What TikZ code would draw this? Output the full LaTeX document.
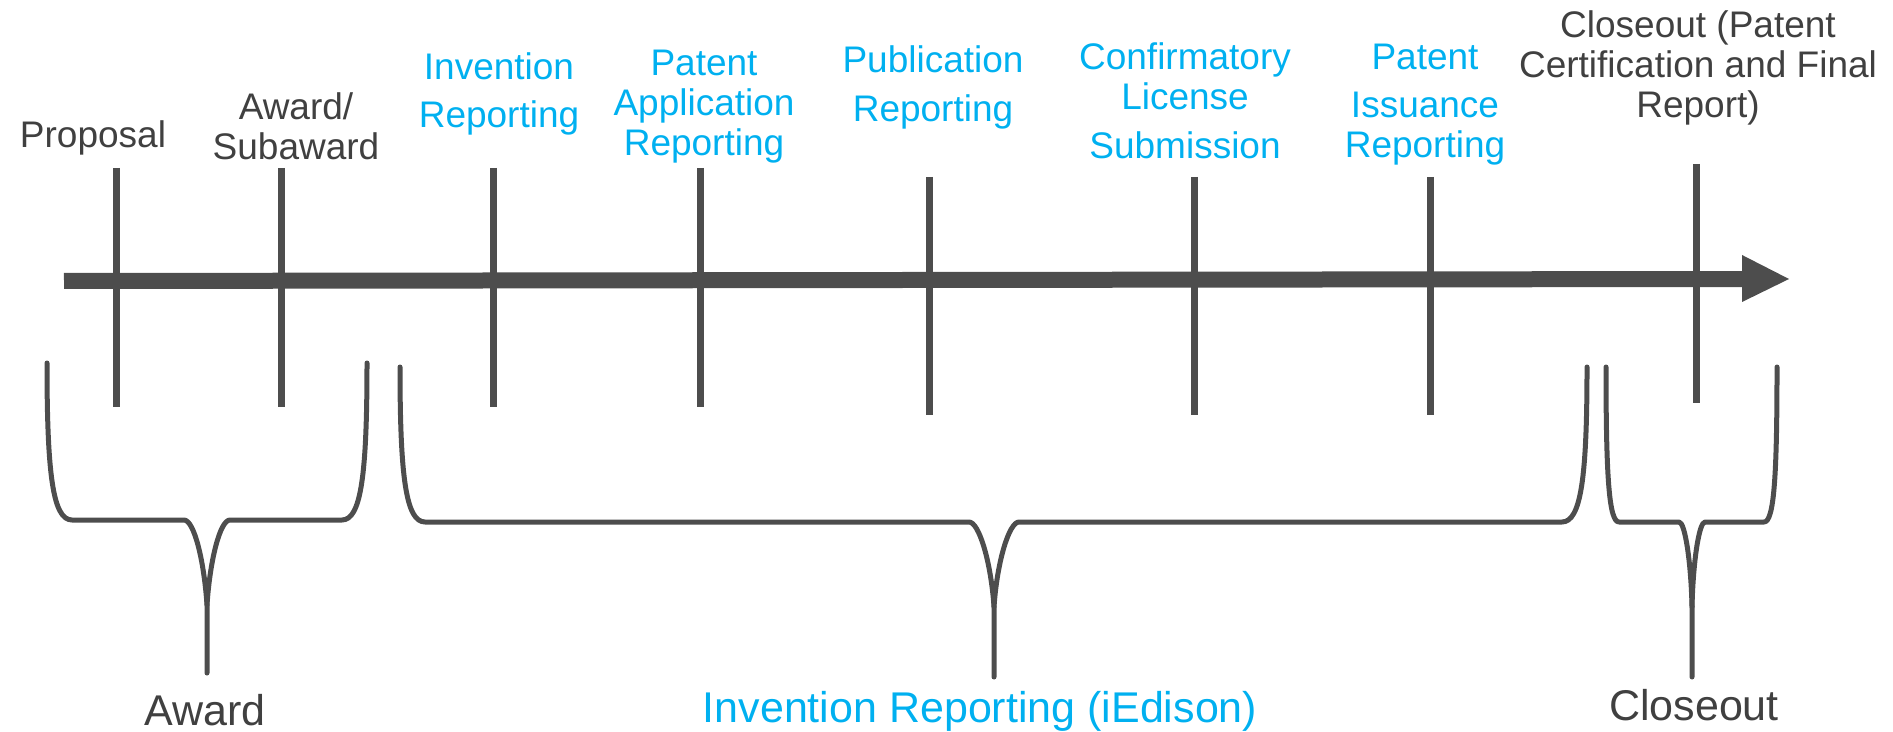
\documentclass[tikz,border=0pt]{standalone}
\usepackage{fontspec}
\setmainfont{Liberation Sans}
\definecolor{linegray}{HTML}{4D4D4D}
\definecolor{textgray}{HTML}{404040}
\definecolor{cyanblue}{HTML}{00B0F0}
\begin{document}
\begin{tikzpicture}[x=0.5pt,y=-0.5pt,
  ticklin/.style={line width=3.5pt, draw=linegray},
  barlin/.style={line width=8pt, draw=linegray},
  bracelin/.style={line width=2.5pt, draw=linegray, line join=round, line cap=round},
  toplab/.style={font=\fontsize{18.5}{20}\selectfont, align=center, inner sep=0pt, anchor=base},
  botlab/.style={font=\fontsize{21.5}{24}\selectfont, inner sep=0pt, anchor=base},
  graytext/.style={text=textgray},
  bluetext/.style={text=cyanblue}]
\useasboundingbox (0,0) rectangle (1893,732);

% main timeline arrow
\coordinate (barstart) at (64,281);
\coordinate (barend) at (1743,279);
\coordinate (tipA) at (1742,255);
\coordinate (tipB) at (1789,279);
\coordinate (tipC) at (1742,302);
\draw[barlin] (barstart) -- (barend);
\fill[linegray] (tipA) -- (tipB) -- (tipC) -- cycle;

% ticks
\coordinate (t1a) at (116,168); \coordinate (t1b) at (116,407);
\coordinate (t2a) at (281,168); \coordinate (t2b) at (281,407);
\coordinate (t3a) at (493,168); \coordinate (t3b) at (493,407);
\coordinate (t4a) at (700,168); \coordinate (t4b) at (700,407);
\coordinate (t5a) at (929,177); \coordinate (t5b) at (929,415);
\coordinate (t6a) at (1194,177); \coordinate (t6b) at (1194,415);
\coordinate (t7a) at (1430,177); \coordinate (t7b) at (1430,415);
\coordinate (t8a) at (1696,164); \coordinate (t8b) at (1696,403);
\foreach \i in {1,...,8} {\draw[ticklin] (t\i a) -- (t\i b);}

% top labels
\node[toplab,graytext] (lproposal) at (93,148) {Proposal};
\node[toplab,graytext] (laward) at (296,160) {Award/\\Subaward};
\node[toplab,bluetext] (linvention) at (499,128) {Invention\\[4pt]Reporting};
\node[toplab,bluetext] (lpatapp) at (704,156) {Patent\\Application\\Reporting};
\node[toplab,bluetext] (lpub) at (933,122) {Publication\\[4.5pt]Reporting};
\node[toplab,bluetext] (lconf) at (1185,159) {Confirmatory\\License\\[4.5pt]Submission};
\node[toplab,bluetext] (lissue) at (1425,158) {Patent\\[4pt]Issuance\\Reporting};
\node[toplab,graytext] (lclose) at (1698,118) {Closeout (Patent\\Certification and Final\\Report)};

% braces
\coordinate (awardtip) at (207,673);
\coordinate (invtip) at (994,677);
\coordinate (closetip) at (1692,677);
\draw[bracelin] (47,363) .. controls (47,475) and (53,520) .. (72,520) -- (184,520)
  .. controls (194,520) and (204,560) .. (207,605) -- (awardtip);
\draw[bracelin] (367,363) .. controls (367,475) and (361,520) .. (342,520) -- (230,520)
  .. controls (220,520) and (210,560) .. (207,605);
\draw[bracelin] (400,367) .. controls (400,477) and (406,522) .. (425,522) -- (969,522)
  .. controls (979,522) and (991,562) .. (994,607) -- (invtip);
\draw[bracelin] (1587,367) .. controls (1587,477) and (1581,522) .. (1562,522) -- (1019,522)
  .. controls (1009,522) and (997,562) .. (994,607);
\draw[bracelin] (1606,367) .. controls (1606,477) and (1609,522) .. (1619,522) -- (1679,522)
  .. controls (1685,522) and (1691,562) .. (1692,607) -- (closetip);
\draw[bracelin] (1777,367) .. controls (1777,477) and (1774,522) .. (1764,522) -- (1705,522)
  .. controls (1699,522) and (1693,562) .. (1692,607);

% bottom labels
\node[botlab,graytext] (baward) at (205,725) {Award};
\node[botlab,bluetext] (binv) at (980,722) {Invention Reporting (iEdison)};
\node[botlab,graytext] (bclose) at (1694,720) {Closeout};
\end{tikzpicture}
\end{document}
